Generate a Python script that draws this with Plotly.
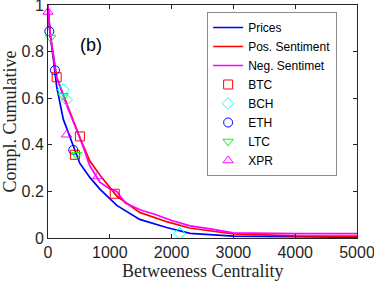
import plotly.graph_objects as go

# Complementary cumulative curves
prices_x = [0, 32, 86, 140, 247, 409, 516, 677, 839, 1113, 1484, 1919, 2300, 3000, 4000, 5000]
prices_y = [1.0, 0.88, 0.77, 0.65, 0.51, 0.39, 0.32, 0.26, 0.21, 0.14, 0.08, 0.045, 0.02, 0.008, 0.004, 0.003]

pos_x = [0, 32, 140, 301, 516, 677, 839, 1113, 1484, 1919, 2290, 2700, 3000, 3500, 4000, 5000]
pos_y = [1.0, 0.88, 0.69, 0.58, 0.43, 0.33, 0.27, 0.18, 0.11, 0.07, 0.043, 0.028, 0.018, 0.013, 0.009, 0.008]

neg_x = [0, 32, 140, 301, 516, 677, 839, 1000, 1113, 1250, 1500, 1750, 2000, 2300, 2600, 3000, 4000, 5000]
neg_y = [1.0, 0.88, 0.69, 0.57, 0.43, 0.31, 0.24, 0.21, 0.20, 0.15, 0.12, 0.10, 0.075, 0.052, 0.04, 0.022, 0.019, 0.019]

# Per-coin markers
btc_x = [140, 435, 516, 1080]
btc_y = [0.69, 0.357, 0.436, 0.19]
bch_x = [247, 301, 2129]
bch_y = [0.637, 0.593, 0.02]
eth_x = [21, 113, 409]
eth_y = [0.887, 0.72, 0.378]
ltc_x = [43, 247, 462]
ltc_y = [0.86, 0.61, 0.357]
xpr_x = [0, 301, 806]
xpr_y = [0.97, 0.443, 0.264]

x_ticks = [0, 1000, 2000, 3000, 4000, 5000]
y_ticks = [0, 0.2, 0.4, 0.6, 0.8, 1]
y_tick_labels = ["0", "0.2", "0.4", "0.6", "0.8", "1"]

fig = go.Figure()
fig.add_trace(go.Scatter(x=prices_x, y=prices_y, mode="lines", name="Prices",
                         line=dict(color="#0000ff", width=1.7)))
fig.add_trace(go.Scatter(x=pos_x, y=pos_y, mode="lines", name="Pos. Sentiment",
                         line=dict(color="#ff0000", width=1.7)))
fig.add_trace(go.Scatter(x=neg_x, y=neg_y, mode="lines", name="Neg. Sentimet",
                         line=dict(color="#ff00ff", width=1.7)))

def mk(x, y, name, sym, col):
    fig.add_trace(go.Scatter(x=x, y=y, mode="markers", name=name, cliponaxis=False,
                             marker=dict(symbol=sym, size=9, color=col,
                                         line=dict(color=col, width=1))))

mk(btc_x, btc_y, "BTC", "square-open", "#ff0000")
mk(bch_x, bch_y, "BCH", "diamond-open", "#00ffff")
mk(eth_x, eth_y, "ETH", "circle-open", "#0000ff")
mk(ltc_x, ltc_y, "LTC", "triangle-down-open", "#00ff00")
mk(xpr_x, xpr_y, "XPR", "triangle-up-open", "#ff00ff")

fig.add_annotation(x=0.097, y=0.88, xref="paper", yref="paper", text="(b)",
                   showarrow=False, font=dict(family="Liberation Sans", size=18, color="black"))

# axis titles as annotations for precise placement
fig.add_annotation(x=0.5, y=-0.142, xref="paper", yref="paper", text="Betweeness Centrality",
                   showarrow=False, yanchor="middle", borderpad=0,
                   font=dict(family="Liberation Serif", size=18, color="#262626"))
fig.add_annotation(x=-0.123, y=0.5, xref="paper", yref="paper", text="Compl. Cumulative",
                   showarrow=False, textangle=-90, xanchor="center", borderpad=0,
                   font=dict(family="Liberation Serif", size=18, color="#262626"))

axis_common = dict(showline=True, linecolor="#262626", linewidth=1, mirror="ticks",
                   ticks="inside", ticklen=4, tickcolor="#262626", showgrid=False,
                   zeroline=False, automargin=False, ticklabeloverflow="allow",
                   tickfont=dict(family="Liberation Sans", size=16, color="#262626"))

fig.update_layout(
    width=374, height=281,
    margin=dict(l=48, r=17, t=5, b=43),
    plot_bgcolor="white", paper_bgcolor="white",
    xaxis=dict(range=[0, 5000], tickvals=x_ticks, **axis_common),
    yaxis=dict(range=[0, 1], tickvals=y_ticks, ticktext=y_tick_labels, **axis_common),
    legend=dict(x=0.515, y=0.97, xanchor="left", yanchor="top",
                bgcolor="white", bordercolor="#8c8c8c", borderwidth=1,
                font=dict(family="Liberation Sans", size=12, color="black"),
                tracegroupgap=0, itemwidth=30),
    showlegend=True,
)

fig.write_html("out.html", config={"displayModeBar": False},
               post_script="document.body.style.margin='0';document.body.style.overflow='hidden';")
